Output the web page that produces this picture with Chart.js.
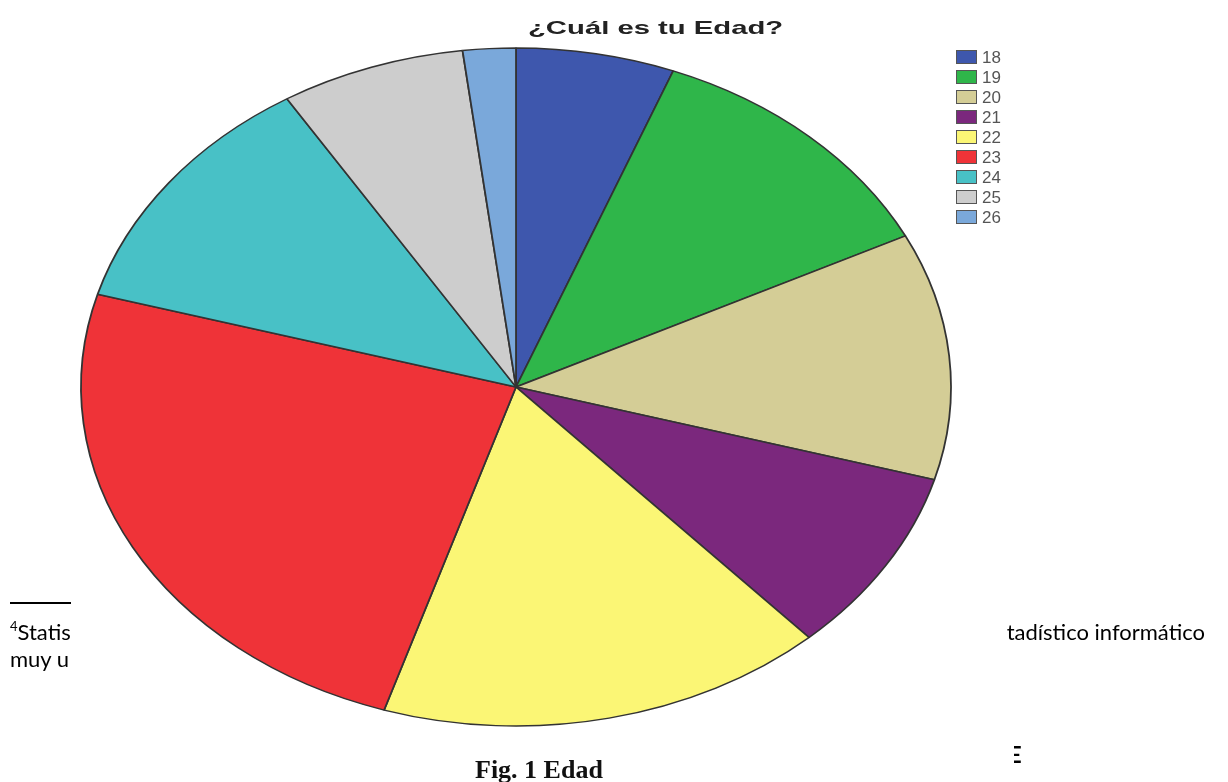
<!DOCTYPE html>
<html lang="es">
<head>
<meta charset="utf-8">
<title>¿Cuál es tu Edad?</title>
<script src="https://cdn.jsdelivr.net/npm/chart.js@4.4.1/dist/chart.umd.min.js"></script>
<style>
  html, body { margin: 0; padding: 0; background: #fff; }
  #page { position: relative; width: 1228px; height: 782px; overflow: hidden; }
  #edadChart { position: absolute; left: 0; top: 0; }
  .titulo {
    position: absolute; left: 528px; top: 18px;
    font: bold 19px "Liberation Sans", Arial, sans-serif; line-height: 19px;
    color: #222; white-space: nowrap;
    transform: scaleX(1.54); transform-origin: left top;
  }
  #leyenda { position: absolute; left: 956px; top: 47px; }
  .fila { height: 20px; display: flex; align-items: center; }
  .caja { width: 19px; height: 12px; border: 1px solid #555; margin-right: 5px; }
  .etiqueta { font: 17px "Liberation Sans", Arial, sans-serif; color: #555; line-height: 17px; }
  .nota { position: absolute; font: 22px Lato, sans-serif; line-height: 27px; color: #000; white-space: nowrap; }
  .nota sup { font-size: 13px; line-height: 0; vertical-align: 9px; }
  .raya { position: absolute; left: 10px; top: 602px; width: 61px; height: 2px; background: #000; }
  .figura { position: absolute; left: 475px; top: 757px; font: bold 26px "Liberation Serif", serif; line-height: 26px; color: #111; white-space: nowrap; }
  .corte { position: absolute; left: 1014px; top: 743px; width: 10px; height: 24px; overflow: hidden; }
  .corte span { position: absolute; left: -5px; top: 0; font: bold 22px Lato, sans-serif; line-height: 24px; color: #000; }
</style>
</head>
<body>
<div id="page">
  <canvas id="edadChart" width="1228" height="782"></canvas>
  <div class="titulo">¿Cuál es tu Edad?</div>
  <div id="leyenda"></div>
  <div class="raya"></div>
  <div class="nota" style="left:10px; top:618px;"><sup>4</sup>Statis<br>muy u</div>
  <div class="nota" style="right:23px; top:618px;">tadístico informático</div>
  <div class="corte"><span>E</span></div>
  <div class="figura">Fig. 1 Edad</div>
</div>
<script>
// Frecuencias por edad (N = 102)
const edades = ['18', '19', '20', '21', '22', '23', '24', '25', '26'];
const frecuencias = [6, 12, 12, 9, 17, 25, 12, 7, 2];
const colores = ['#3e57ad', '#2fb64a', '#d4cd96', '#7b287d', '#fbf675', '#ef3338', '#48c1c6', '#cdcdcd', '#7aa8da'];

// el gráfico original sale ensanchado: elipse de 435 x 339
const radioVertical = 339;
const estiramiento = 435 / 339;

// Ensancha la tarta alrededor de su centro
const ensanchar = {
    id: 'ensanchar',
    beforeDatasetsDraw(chart) {
        const { ctx, chartArea } = chart;
        const cx = (chartArea.left + chartArea.right) / 2;
        const cy = (chartArea.top + chartArea.bottom) / 2;
        ctx.save();
        ctx.translate(cx, cy);
        ctx.scale(estiramiento, 1);
        ctx.translate(-cx, -cy);
    },
    afterDatasetsDraw(chart) {
        chart.ctx.restore();
    }
};

function crearLeyenda() {
    const cont = document.getElementById('leyenda');
    edades.forEach((edad, i) => {
        const fila = document.createElement('div');
        fila.className = 'fila';
        const caja = document.createElement('div');
        caja.className = 'caja';
        caja.style.background = colores[i];
        const txt = document.createElement('span');
        txt.className = 'etiqueta';
        txt.textContent = edad;
        fila.appendChild(caja);
        fila.appendChild(txt);
        cont.appendChild(fila);
    });
}

function crearGraficoEdad() {
    const ctx = document.getElementById('edadChart').getContext('2d');
    new Chart(ctx, {
        type: 'pie',
        data: {
            labels: edades,
            datasets: [{
                data: frecuencias,
                backgroundColor: colores,
                borderColor: '#333333',
                borderWidth: 1.4,
                clip: false
            }]
        },
        options: {
            responsive: false,
            devicePixelRatio: 1,
            animation: false,
            events: [],
            radius: radioVertical,
            // centro en (516, 387)
            layout: { padding: { left: 177, right: 373, top: 48, bottom: 56 } },
            plugins: {
                legend: { display: false },
                title: { display: false },
                tooltip: { enabled: false }
            }
        },
        plugins: [ensanchar]
    });
}

crearLeyenda();
crearGraficoEdad();
</script>
</body>
</html>
